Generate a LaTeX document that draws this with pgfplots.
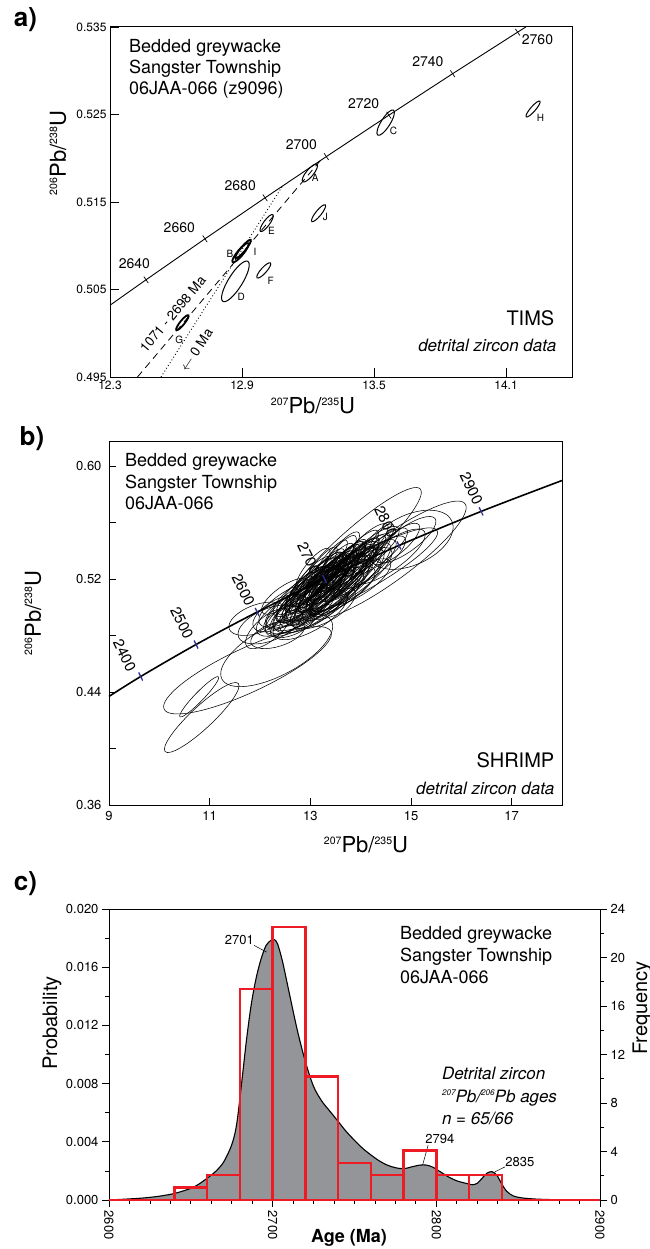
\documentclass[border=0pt]{standalone}
\usepackage{fontspec}
\setmainfont{TeX Gyre Heros}
\usepackage{graphicx}
\usepackage{pgfplots}
\usepackage{pgfplotstable}
\pgfplotsset{compat=1.18}

\definecolor{histred}{HTML}{ED1C24}
\definecolor{pdpgray}{HTML}{939598}
\definecolor{tickblue}{HTML}{2E3192}

\newcommand{\fs}[1]{\fontsize{#1}{#1}\selectfont}
\newcommand{\iso}[1]{\raisebox{0.4em}{\scalebox{0.48}{#1}}}

% error ellipse as a plot mark, semi-axes in pt, rotated per point
\pgfdeclareplotmark{ell}{%
  \pgfpathellipse{\pgfpointorigin}{\pgfpoint{\ra pt}{0pt}}{\pgfpoint{0pt}{\rb pt}}%
  \pgfusepathqstroke}

\pgfplotsset{
  ellipses/.style={only marks, mark=ell, scatter,
    visualization depends on={\thisrow{a}\as\ra},
    visualization depends on={\thisrow{b}\as\rb},
    visualization depends on={\thisrow{ang}\as\ang},
    scatter/@pre marker code/.code={\scope[rotate=\ang]},
    scatter/@post marker code/.code={\endscope}},
  panel/.style={scale only axis, anchor=south west, clip=false,
    scaled ticks=false,
    axis line style={line width=1pt},
    every tick/.style={black, line width=0.8pt},
    /pgf/number format/assume math mode=true},
}

% TIMS fractions: x y semi-major semi-minor angle
\pgfplotstableread{
x y a b ang
13.2085 0.51831 11.3 3.6 50.6
13.012 0.51259 10.4 3.0 53.6
12.870 0.50593 23.6 7.0 58
12.999 0.50718 10.0 2.8 48
13.248 0.51372 10.7 2.8 51
13.553 0.52407 14.8 4.5 57.7
14.223 0.52563 10.4 2.5 49
}\tabA
\pgfplotstableread{
x y a b ang
12.893 0.50920 12.3 3.0 50.4
12.905 0.50962 12.0 2.4 50.4
12.629 0.50121 9.6 2.2 51
}\tabAdark

% SHRIMP spots
\pgfplotstableread{
x y a b ang
11.752 0.4555 92 22 25
12.332 0.4698 62 25 28
10.792 0.4367 27.7 4.5 46
10.842 0.4220 50 11 43
13.855 0.5413 90 18 42
14.533 0.5335 96 22 36
13.920 0.5229 92 18 29
15.000 0.5480 45 25 25
12.165 0.4851 28 12 40
11.95 0.492 30 14 20
12.20 0.488 34 16 22
12.35 0.481 28 12 18
12.40 0.496 30 14 28
12.55 0.492 26 12 25
12.60 0.502 36 14 32
12.70 0.498 44 16 30
12.75 0.508 30 11 38
12.80 0.503 40 13 34
12.85 0.512 34 10 42
12.90 0.506 48 15 35
12.95 0.515 28 9 44
13.00 0.509 42 13 38
13.00 0.520 30 8 48
13.05 0.514 36 11 42
13.10 0.505 50 16 33
13.10 0.518 34 10 45
13.15 0.511 44 14 38
13.20 0.522 32 9 47
13.20 0.515 40 12 41
13.25 0.508 46 15 35
13.30 0.519 38 11 43
13.30 0.526 28 8 50
13.35 0.513 52 16 36
13.40 0.522 36 10 44
13.45 0.517 44 13 39
13.45 0.529 30 8 49
13.50 0.525 40 11 43
13.55 0.520 48 14 38
13.60 0.529 34 9 46
13.65 0.523 42 12 40
13.70 0.532 30 8 48
13.75 0.527 40 11 42
13.80 0.520 50 15 36
13.85 0.531 36 10 44
13.90 0.525 44 13 39
14.00 0.534 34 9 45
14.05 0.528 42 12 40
14.15 0.537 30 9 44
14.25 0.532 40 12 38
14.40 0.540 34 10 40
14.55 0.536 44 14 35
14.70 0.545 30 10 40
14.90 0.548 36 12 36
12.95 0.498 38 16 28
13.25 0.500 36 15 28
13.60 0.512 40 14 32
13.95 0.518 38 13 33
12.65 0.488 24 10 24
13.05 0.527 26 8 52
13.55 0.535 28 8 52
14.30 0.545 26 8 48
12.50 0.508 28 10 35
13.10 0.512 40 10 45
13.15 0.520 36 9 48
13.20 0.509 44 12 42
13.25 0.517 38 10 46
13.30 0.512 42 11 44
13.35 0.521 36 9 47
13.40 0.515 46 12 42
13.45 0.524 34 9 48
13.50 0.518 40 11 45
13.55 0.527 32 8 50
13.60 0.521 44 12 43
13.65 0.530 30 8 50
13.70 0.525 38 10 45
13.75 0.519 46 13 40
13.80 0.529 34 9 47
13.90 0.532 32 9 46
13.00 0.516 36 10 46
12.95 0.510 40 12 42
12.90 0.502 44 14 38
13.05 0.507 42 13 40
13.15 0.503 46 15 36
13.35 0.506 44 14 38
13.50 0.511 42 13 40
13.70 0.514 44 13 38
13.95 0.540 28 8 46
14.10 0.544 30 9 44
14.20 0.540 36 11 40
13.20 0.528 26 7 52
13.40 0.533 26 7 52
13.60 0.538 28 8 50
12.80 0.497 40 15 32
13.00 0.495 42 16 30
13.30 0.523 30 8 48
13.25 0.514 34 9 46
13.45 0.520 36 10 45
13.55 0.515 38 11 43
13.65 0.517 40 12 42
13.85 0.524 38 11 42
}\tabB

\begin{document}
\begin{tikzpicture}
\path[use as bounding box] (0pt,0pt) rectangle (649pt,-1249pt);

%% ---------------- a) TIMS ----------------
\begin{axis}[panel, at={(110pt,-377pt)}, width=462pt, height=350pt,
  xmin=12.3, xmax=14.4, ymin=0.495, ymax=0.535,
  xtick={12.3,12.9,13.5,14.1}, ytick={0.495,0.505,0.515,0.525,0.535},
  tick align=inside, xtick pos=bottom, ytick pos=left, major tick length=9pt,
  tick label style={font=\fs{12}},
  xticklabel style={/pgf/number format/.cd, fixed, fixed zerofill, precision=1},
  yticklabel style={/pgf/number format/.cd, fixed, fixed zerofill, precision=3},
]
\addplot[black, line width=0.9pt] coordinates {(12.3,0.50320) (12.4638,0.50611)
  (12.7316,0.51079) (13.0048,0.51548) (13.2834,0.52019) (13.5675,0.52492)
  (13.8573,0.52966) (14.1528,0.53441) (14.190,0.535)};
\addplot[only marks, mark=|, mark size=4pt, mark options={rotate=34, line width=0.7pt}]
  coordinates {(12.4638,0.50611) (12.7316,0.51079) (13.0048,0.51548) (13.2834,0.52019)
  (13.5675,0.52492) (13.8573,0.52966) (14.1528,0.53441)};
\addplot[black, line width=0.8pt, dash pattern=on 7pt off 5pt]
  coordinates {(12.425,0.495) (13.255,0.5197)};
\addplot[black, line width=0.9pt, dash pattern=on 0.9pt off 2.4pt]
  coordinates {(12.532,0.495) (13.086,0.5169)};
\addplot[ellipses, black, line width=1pt] table {\tabA};
\addplot[ellipses, black, line width=1.8pt] table {\tabAdark};
\node[font=\fs{14}] at (axis cs:12.411,0.50795) {2640};
\node[font=\fs{14}] at (axis cs:12.615,0.51208) {2660};
\node[font=\fs{14}] at (axis cs:12.892,0.51683) {2680};
\node[font=\fs{14}] at (axis cs:13.170,0.52150) {2700};
\node[font=\fs{14}] at (axis cs:13.453,0.52625) {2720};
\node[font=\fs{14}] at (axis cs:13.745,0.53099) {2740};
\node[font=\fs{14}] at (axis cs:14.243,0.53354) {2760};
\node[font=\fs{10}] at (axis cs:13.233,0.51778) {A};
\node[font=\fs{10}] at (axis cs:12.845,0.50909) {B};
\node[font=\fs{10}] at (axis cs:13.589,0.52310) {C};
\node[font=\fs{10}] at (axis cs:12.897,0.50411) {D};
\node[font=\fs{10}] at (axis cs:13.034,0.51171) {E};
\node[font=\fs{10}] at (axis cs:13.030,0.50601) {F};
\node[font=\fs{10}] at (axis cs:12.615,0.49925) {G};
\node[font=\fs{10}] at (axis cs:14.257,0.52466) {H};
\node[font=\fs{10}] at (axis cs:12.959,0.50935) {I};
\node[font=\fs{10}] at (axis cs:13.279,0.51334) {J};
\node[font=\fs{13.5}, rotate=50, inner sep=0pt] at (axis cs:12.585,0.50218) {1071 - 2698 Ma};
\node[font=\fs{13.5}, rotate=57, inner sep=0pt] at (axis cs:12.692,0.49810) {$\leftarrow$ 0 Ma};
\end{axis}

%% ---------------- b) SHRIMP ----------------
\begin{axis}[panel, at={(109pt,-805pt)}, width=453pt, height=364pt,
  xmin=9, xmax=18, ymin=0.36, ymax=0.618,
  xtick={9,11,13,15,17}, ytick={0.36,0.44,0.52,0.60}, minor ytick={0.40,0.48,0.56},
  tick align=inside, xtick pos=bottom, ytick pos=left,
  major tick length=7pt, minor tick length=7pt,
  tick label style={font=\fs{13}},
  yticklabel style={xshift=-4pt, /pgf/number format/.cd, fixed, fixed zerofill, precision=2},
  xticklabel style={yshift=-3pt},
]
\addplot[ellipses, black, line width=0.55pt] table {\tabB};
\addplot[black, line width=1.6pt, smooth] coordinates {(9,0.43696) (9.6296,0.45107)
  (10.7297,0.47376) (11.9437,0.49679) (13.2834,0.52019) (14.7617,0.54396)
  (16.3929,0.56809) (18,0.5900)};
\addplot[only marks, mark=|, mark size=4.5pt, mark options={rotate=26, tickblue, line width=1.3pt}]
  coordinates {(9.6296,0.45107) (10.7297,0.47376) (11.9437,0.49679) (13.2834,0.52019)
  (14.7617,0.54396) (16.3929,0.56809)};
\node[font=\fs{15}, rotate=-64] at (axis cs:9.31,0.466) {2400};
\node[font=\fs{15}, rotate=-64] at (axis cs:10.45,0.4891) {2500};
\node[font=\fs{15}, rotate=-64] at (axis cs:11.67,0.5123) {2600};
\node[font=\fs{15}, rotate=-64, fill=white, fill opacity=0.75, text opacity=1, inner sep=0.5pt] at (axis cs:12.97,0.5347) {2700};
\node[font=\fs{15}, rotate=-64, fill=white, fill opacity=0.75, text opacity=1, inner sep=0.5pt] at (axis cs:14.50,0.5607) {2800};
\node[font=\fs{15}, rotate=-64] at (axis cs:16.20,0.5843) {2900};
\end{axis}

%% ---------------- c) probability density + histogram ----------------
\begin{axis}[panel, at={(109pt,-1200pt)}, width=491pt, height=291pt,
  xmin=2600, xmax=2900, ymin=0, ymax=0.020,
  xtick={2600,2700,2800,2900}, minor x tick num=7,
  ytick={0,0.004,0.008,0.012,0.016,0.020}, minor y tick num=1,
  tick align=outside, xtick pos=bottom, ytick pos=left,
  major tick length=7pt, minor tick length=4pt,
  tick label style={font=\fs{13}},
  xticklabel style={rotate=-90, anchor=west, /pgf/number format/1000 sep={}},
  yticklabel style={/pgf/number format/.cd, fixed, fixed zerofill, precision=3},
]
\addplot[fill=pdpgray, draw=black, line width=1.1pt, smooth, tension=0.5] coordinates {
  (2600,0) (2610,0.00006) (2620,0.00013) (2630,0.00025) (2640,0.00045)
  (2650,0.00080) (2655,0.00110) (2660,0.00150) (2665,0.00195) (2670,0.00260)
  (2675,0.00380) (2678,0.00520) (2681,0.00800) (2684,0.01100) (2687,0.01350)
  (2690,0.01530) (2693,0.01660) (2696,0.01750) (2699,0.01785) (2701,0.01790)
  (2703,0.01760) (2706,0.01640) (2710,0.01430) (2715,0.01170) (2720,0.00950)
  (2725,0.00780) (2730,0.00680) (2735,0.00610) (2740,0.00540) (2745,0.00470)
  (2750,0.00410) (2755,0.00355) (2760,0.00310) (2765,0.00270) (2770,0.00240)
  (2775,0.00222) (2780,0.00215) (2785,0.00228) (2790,0.00240) (2794,0.00240)
  (2798,0.00225) (2803,0.00190) (2808,0.00155) (2813,0.00130) (2818,0.00115)
  (2822,0.00105) (2825,0.00115) (2828,0.00150) (2831,0.00185) (2834,0.00195)
  (2837,0.00170) (2840,0.00110) (2843,0.00060) (2847,0.00028) (2852,0.00015)
  (2860,0.00007) (2870,0.00003) (2885,0.00001) (2900,0)} \closedcycle;
\node[font=\fs{13}] at (axis cs:2679.6,0.01789) {2701};
\draw[line width=0.5pt] (axis cs:2688.6,0.0175) -- (axis cs:2696.3,0.01704);
\node[font=\fs{13}] at (axis cs:2802.2,0.00419) {2794};
\draw[line width=0.5pt] (axis cs:2795,0.00377) -- (axis cs:2791.6,0.0024);
\node[font=\fs{13}] at (axis cs:2851,0.00263) {2835};
\draw[line width=0.5pt] (axis cs:2842,0.00228) -- (axis cs:2835.8,0.00194);
\end{axis}
\begin{axis}[panel, at={(109pt,-1200pt)}, width=491pt, height=291pt,
  xmin=2600, xmax=2900, ymin=0, ymax=24,
  axis x line=none, axis y line*=right,
  ytick={0,4,8,12,16,20,24}, minor y tick num=1,
  tick align=outside, major tick length=7pt, minor tick length=4pt,
  tick label style={font=\fs{13}},
]
\addplot[ybar interval, draw=histred, fill=none, line width=2.4pt] coordinates {
  (2640,1.04) (2660,2.07) (2680,17.4) (2700,22.5) (2720,10.2) (2740,3.05)
  (2760,2.06) (2780,4.08) (2800,2.06) (2820,2.06) (2840,0)};
\addplot[histred, line width=2.4pt] coordinates {(2600,0) (2900,0)};
\end{axis}

%% ---------------- free text ----------------
\node[font=\bfseries\fs{26}] at (25.5pt,-20pt) {a)};
\node[font=\bfseries\fs{26}] at (32pt,-439pt) {b)};
\node[font=\bfseries\fs{26}] at (25.5pt,-884pt) {c)};

\node[anchor=west, align=left, inner sep=0pt, font=\fontsize{18}{21}\selectfont]
  at (129pt,-69pt) {Bedded greywacke\\Sangster Township\\06JAA-066 (z9096)};
\node[anchor=east, font=\fs{20}, inner sep=0pt] at (554.5pt,-318pt) {TIMS};
\node[anchor=east, font=\itshape\fs{17}, inner sep=0pt] at (556.6pt,-345pt) {detrital zircon data};
\node[font=\fs{22}] at (313pt,-406pt) {\iso{207}Pb/\iso{235}U};
\node[font=\fs{22}, rotate=90] at (58pt,-153pt) {\iso{206}Pb/\iso{238}U};

\node[anchor=west, align=left, inner sep=0pt, font=\fontsize{18}{21.5}\selectfont]
  at (125pt,-481.7pt) {Bedded greywacke\\Sangster Township\\06JAA-066};
\node[anchor=east, font=\fs{20}, inner sep=0pt] at (554.5pt,-760pt) {SHRIMP};
\node[anchor=east, font=\itshape\fs{17}, inner sep=0pt] at (554.5pt,-788pt) {detrital zircon data};
\node[font=\fs{22}] at (366pt,-845pt) {\iso{207}Pb/\iso{235}U};
\node[font=\fs{22}, rotate=90] at (33pt,-613pt) {\iso{206}Pb/\iso{238}U};

\node[anchor=west, align=left, inner sep=0pt, font=\fontsize{18}{21.7}\selectfont]
  at (400pt,-955pt) {Bedded greywacke\\Sangster Township\\06JAA-066};
\node[anchor=west, align=left, inner sep=0pt, font=\itshape\fontsize{17}{22.5}\selectfont]
  at (441.8pt,-1096pt) {Detrital zircon\\\iso{207}Pb/\iso{206}Pb ages\\n = 65/66};
\node[font=\fs{20}, rotate=90] at (52pt,-1023pt) {Probability};
\node[font=\fs{20}, rotate=90] at (642pt,-1008pt) {Frequency};
\node[font=\bfseries\fs{18}] at (349pt,-1238pt) {Age (Ma)};
\end{tikzpicture}
\end{document}
